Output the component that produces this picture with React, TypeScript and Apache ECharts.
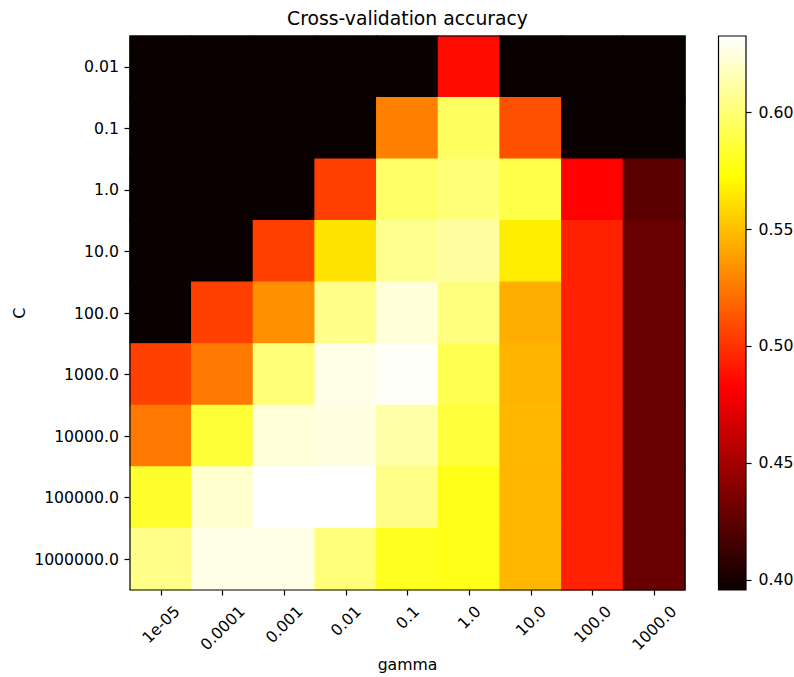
import React, { useEffect, useRef } from "react";
import * as echarts from "echarts";

const gammaLabels = ["1e-05", "0.0001", "0.001", "0.01", "0.1", "1.0", "10.0", "100.0", "1000.0"];
const cLabels = ["0.01", "0.1", "1.0", "10.0", "100.0", "1000.0", "10000.0", "100000.0", "1000000.0"];

// rows: C (top to bottom), columns: gamma (left to right)
const row001 = [0.3957, 0.3957, 0.3957, 0.3957, 0.3957, 0.4862, 0.3957, 0.3957, 0.3957];
const row01 = [0.3957, 0.3957, 0.3957, 0.3957, 0.5273, 0.5950, 0.5105, 0.3957, 0.3957];
const row1 = [0.3957, 0.3957, 0.3957, 0.5047, 0.5964, 0.6006, 0.5898, 0.4822, 0.4238];
const row10 = [0.3957, 0.3957, 0.5047, 0.5628, 0.6063, 0.6101, 0.5663, 0.4937, 0.4287];
const row100 = [0.3957, 0.5047, 0.5330, 0.6048, 0.6233, 0.6025, 0.5437, 0.4937, 0.4287];
const row1e3 = [0.5047, 0.5245, 0.6006, 0.6270, 0.6309, 0.5914, 0.5458, 0.4937, 0.4287];
const row1e4 = [0.5245, 0.5856, 0.6233, 0.6252, 0.6119, 0.5866, 0.5471, 0.4937, 0.4287];
const row1e5 = [0.5837, 0.6214, 0.6325, 0.6325, 0.6044, 0.5780, 0.5471, 0.4937, 0.4287];
const row1e6 = [0.6044, 0.6270, 0.6270, 0.6010, 0.5800, 0.5780, 0.5471, 0.4937, 0.4287];
const scores = [row001, row01, row1, row10, row100, row1e3, row1e4, row1e5, row1e6];

const colorbarTicks = [0.4, 0.45, 0.5, 0.55, 0.6];

const FONT = "DejaVu Sans";
const FS = 15.7;
const TITLE_FS = 18.8;

// matplotlib "hot" colormap
function hot(t: number): string {
  const a = 0.365079, b = 0.746032;
  const r = t < a ? 0.0416 + (t / a) * (1 - 0.0416) : 1;
  const g = t < a ? 0 : t < b ? (t - a) / (b - a) : 1;
  const bl = t < b ? 0 : (t - b) / (1 - b);
  const h = (x: number) => Math.round(Math.max(0, Math.min(1, x)) * 255);
  return `rgb(${h(r)},${h(g)},${h(bl)})`;
}

export default function App() {
  const ref = useRef<HTMLDivElement>(null);
  useEffect(() => {
    document.body.style.margin = "0";
    if (!ref.current) return;
    const chart = echarts.init(ref.current, null, { renderer: "svg" });

    const flat = scores.flat();
    const vmin = Math.min(...flat);
    const vmax = Math.max(...flat);
    const data: number[][] = [];
    scores.forEach((row, r) => row.forEach((v, c) => data.push([c, r, v])));

    const hotColors: string[] = [];
    for (let i = 0; i <= 128; i++) hotColors.push(hot(i / 128));

    // emulate matplotlib's 45° rotated tick labels whose rotated box is centred under the tick
    const ctx = document.createElement("canvas").getContext("2d")!;
    ctx.font = `${FS}px "${FONT}"`;
    const textH = FS * 1.164;
    const xData = gammaLabels.map((g) => {
      const L = ctx.measureText(g).width;
      const drop = 12 + (L + textH) / (2 * Math.SQRT2); // wanted centre below axis
      const a = drop / Math.SQRT2;
      return {
        value: g,
        textStyle: {
          align: "center",
          verticalAlign: "top",
          lineHeight: 2 * a,
          padding: [0, 2 * a, 0, 0],
        },
      };
    });

    const lineStyle = { color: "#000", width: 1.2 };

    chart.setOption({
      animation: false,
      backgroundColor: "#fff",
      textStyle: { fontFamily: FONT, color: "#000" },
      title: {
        text: "Cross-validation accuracy",
        left: 407.5,
        top: 9,
        textAlign: "center",
        padding: 0,
        textStyle: { fontFamily: FONT, fontSize: TITLE_FS, fontWeight: "normal", color: "#000" },
      },
      grid: [
        {
          left: 130, top: 36, width: 555, height: 554,
          show: true, z: 5, backgroundColor: "transparent",
          borderColor: "#000", borderWidth: 1.2,
          outerBoundsMode: "none",
        },
        {
          left: 718.5, top: 36, width: 27.5, height: 554,
          show: true, z: 5,
          backgroundColor: new echarts.graphic.LinearGradient(0, 1, 0, 0, [
            { offset: 0, color: hot(0) },
            { offset: 0.365079, color: hot(0.365079) },
            { offset: 0.746032, color: hot(0.746032) },
            { offset: 1, color: hot(1) },
          ]),
          borderColor: "#000", borderWidth: 1.2,
          outerBoundsMode: "none",
        },
      ],
      xAxis: [
        {
          gridIndex: 0,
          type: "category",
          data: xData,
          name: "gamma",
          nameLocation: "middle",
          nameGap: 66,
          nameMoveOverlap: false,
          nameTextStyle: { fontFamily: FONT, fontSize: FS, color: "#000" },
          axisLine: { show: false },
          axisTick: { show: true, alignWithLabel: true, length: 5.5, lineStyle },
          axisLabel: {
            interval: 0,
            rotate: 45,
            margin: 0,
            fontFamily: FONT,
            fontSize: FS,
            color: "#000",
            hideOverlap: false,
          },
          splitLine: { show: false },
        },
        { gridIndex: 1, type: "category", data: [""], show: false },
      ],
      yAxis: [
        {
          gridIndex: 0,
          type: "category",
          data: cLabels,
          inverse: true,
          name: "C",
          nameLocation: "middle",
          nameGap: 103,
          nameMoveOverlap: false,
          nameTextStyle: { fontFamily: FONT, fontSize: FS, color: "#000" },
          axisLine: { show: false },
          axisTick: { show: true, alignWithLabel: true, length: 5.5, lineStyle },
          axisLabel: { interval: 0, margin: 11, fontFamily: FONT, fontSize: FS, color: "#000" },
          splitLine: { show: false },
        },
        {
          gridIndex: 1,
          type: "value",
          position: "right",
          min: vmin,
          max: vmax,
          axisLine: { show: false },
          splitLine: { show: false },
          axisTick: { show: true, length: 5.5, lineStyle, customValues: colorbarTicks },
          axisLabel: {
            margin: 12.5,
            fontFamily: FONT,
            fontSize: FS,
            color: "#000",
            customValues: colorbarTicks,
            formatter: (v: number) => v.toFixed(2),
          },
        },
      ],
      visualMap: [
        {
          type: "continuous",
          show: false,
          min: vmin,
          max: vmax,
          seriesIndex: 0,
          dimension: 2,
          inRange: { color: hotColors },
        },
      ],
      series: [
        {
          type: "custom",
          xAxisIndex: 0,
          yAxisIndex: 0,
          data,
          encode: { x: 0, y: 1 },
          silent: true,
          renderItem: (params: any, api: any) => {
            const p = api.coord([api.value(0), api.value(1)]);
            const s = api.size([1, 1]);
            const color = api.visual("color");
            return {
              type: "rect",
              shape: { x: p[0] - s[0] / 2, y: p[1] - s[1] / 2, width: s[0], height: s[1] },
              style: { fill: color, stroke: color, lineWidth: 1.2 },
            };
          },
        },
      ],
    });

    return () => chart.dispose();
  }, []);
  return <div ref={ref} style={{ width: 794, height: 677 }} />;
}
